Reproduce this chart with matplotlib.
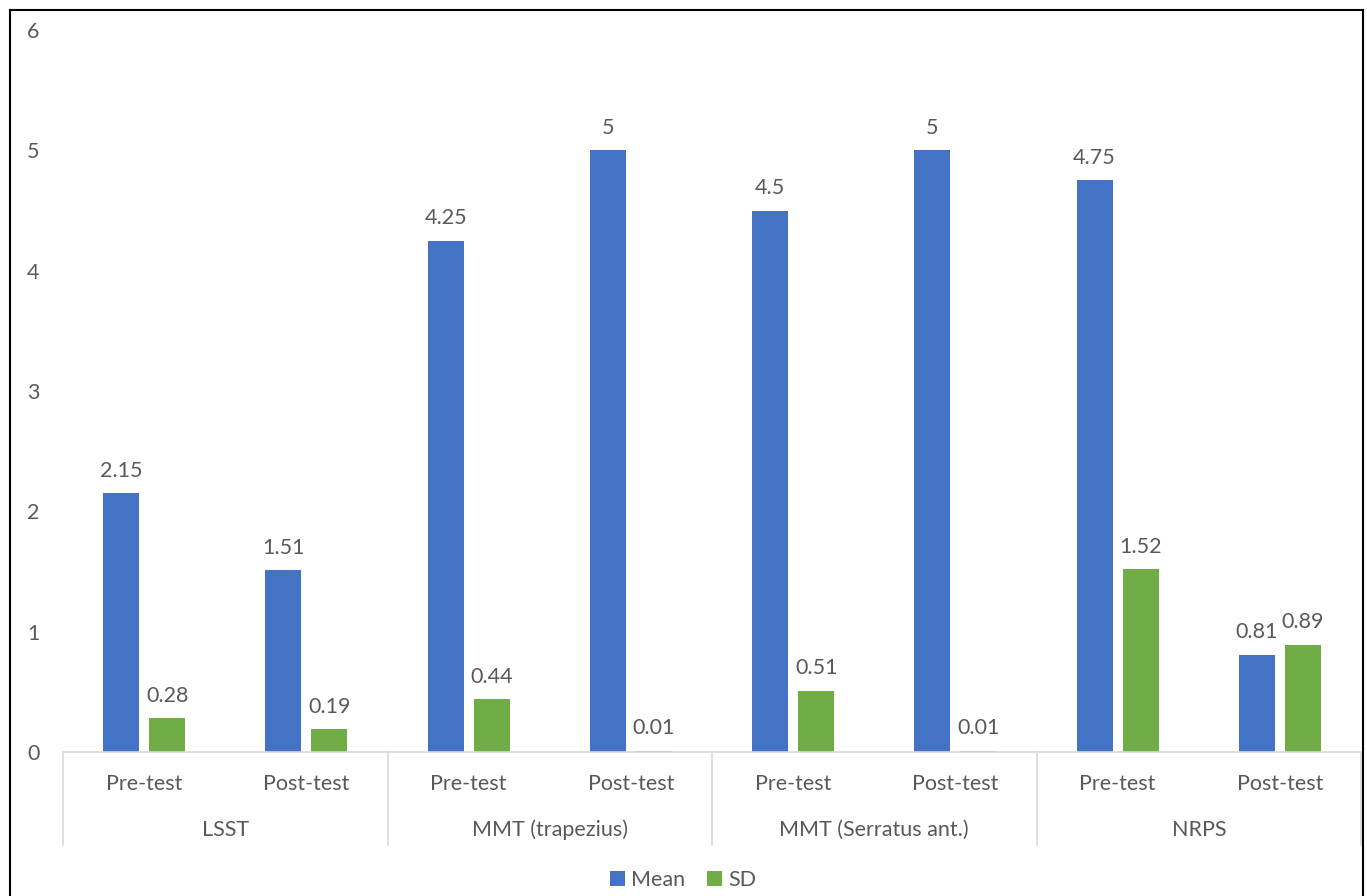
import matplotlib
matplotlib.use('Agg')
import matplotlib.pyplot as plt
from matplotlib.lines import Line2D
import matplotlib.transforms as mtransforms
import numpy as np

plt.rcParams['font.family'] = ['Lato', 'DejaVu Sans']

# data
groups = ['LSST', 'MMT (trapezius)', 'MMT (Serratus ant.)', 'NRPS']
phases = ['Pre-test', 'Post-test']
mean_vals = [2.15, 1.51, 4.25, 5, 4.5, 5, 4.75, 0.81]
sd_vals = [0.28, 0.19, 0.44, 0.01, 0.51, 0.01, 1.52, 0.89]
mean_labels = ['2.15', '1.51', '4.25', '5', '4.5', '5', '4.75', '0.81']
sd_labels = ['0.28', '0.19', '0.44', '0.01', '0.51', '0.01', '1.52', '0.89']

blue = '#4472C4'
green = '#70AD47'
txt = '#595959'
line_gray = '#D9D9D9'

W, H = 1367, 896
fig = plt.figure(figsize=(W / 100, H / 100), dpi=100)
fig.patch.set_facecolor('white')
ax = fig.add_axes([63 / W, 1 - 752 / H, (1361 - 63) / W, (752 - 30) / H])

x = np.arange(len(mean_vals))
bw = 0.222
off = 0.142
ax.bar(x - off, mean_vals, bw, color=blue, label='Mean', zorder=2)
ax.bar(x + off, sd_vals, bw, color=green, label='SD', zorder=2)

fs = 15.5
for i in range(len(x)):
    ax.annotate(mean_labels[i], (x[i] - off, mean_vals[i]), xytext=(0, 9),
                textcoords='offset points', ha='center', va='bottom',
                fontsize=fs, color=txt)
    ax.annotate(sd_labels[i], (x[i] + off, sd_vals[i]), xytext=(0, 9),
                textcoords='offset points', ha='center', va='bottom',
                fontsize=fs, color=txt)

ax.set_xlim(-0.5, len(x) - 0.5)
ax.set_ylim(0, 6)
ax.set_yticks(range(0, 7))
ax.tick_params(axis='y', length=0, pad=17, labelsize=fs, labelcolor=txt)
ax.set_xticks([])
for s in ['top', 'right', 'left']:
    ax.spines[s].set_visible(False)
ax.spines['bottom'].set_color(line_gray)
ax.spines['bottom'].set_linewidth(1.2)

# multi-level category axis
trans = mtransforms.blended_transform_factory(ax.transData, ax.transAxes)
y_low = -(845 - 752) / (752 - 30)
for b in np.arange(-0.5, len(x), 2):
    ax.add_line(Line2D([b, b], [0, y_low], transform=trans, color=line_gray,
                       lw=1.2, clip_on=False))
for i in range(len(x)):
    ax.text(x[i], -(784 - 752) / 722, phases[i % 2], transform=trans,
            ha='center', va='center', fontsize=fs, color=txt)
for g, name in enumerate(groups):
    ax.text(2 * g + 0.5, -(830 - 752) / 722, name, transform=trans,
            ha='center', va='center', fontsize=fs, color=txt)

# legend
leg = fig.legend(loc='center', bbox_to_anchor=(683 / W, 1 - 880 / H), ncol=2,
                 frameon=False, fontsize=fs, handlelength=0.7, handleheight=0.7,
                 handletextpad=0.3, columnspacing=1.0)
for t in leg.get_texts():
    t.set_color(txt)

# outer frame
fig.add_artist(Line2D([10 / W, 10 / W], [0, 1 - 10 / H], color='black', lw=1.5))
fig.add_artist(Line2D([10 / W, 1363 / W], [1 - 10 / H, 1 - 10 / H], color='black', lw=1.5))
fig.add_artist(Line2D([1363 / W, 1363 / W], [0, 1 - 10 / H], color='black', lw=1.5))

fig.savefig('out.png', dpi=100)
